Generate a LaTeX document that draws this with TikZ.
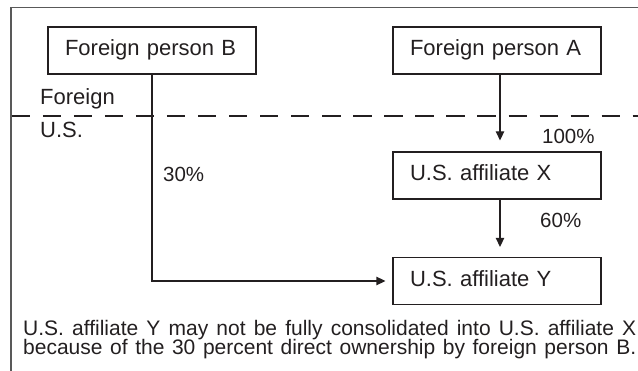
\documentclass[tikz,border=0pt]{standalone}
\usepackage{fontspec}
\setmainfont{Liberation Sans}
\usetikzlibrary{arrows.meta}
\definecolor{ink}{HTML}{231F20}
\tikzset{
  box/.style={draw=ink, line width=1.3pt, rectangle, minimum width=208pt, minimum height=47pt,
    text width=174pt, inner xsep=17pt, inner ysep=0pt, align=left,
    text height=16pt, text depth=5pt, font=\fontsize{22}{26}\selectfont, text=ink},
  lbl/.style={anchor=base west, inner sep=0pt, font=\fontsize{22}{26}\selectfont, text=ink},
  pct/.style={anchor=base west, inner sep=0pt, font=\fontsize{20.5}{24}\selectfont, text=ink},
  note/.style={anchor=base west, inner sep=0pt, font=\fontsize{21}{22}\selectfont, text=ink},
  conn/.style={draw=ink, line width=1.3pt, -{Triangle[length=9pt,width=8.5pt]}},
  frame/.style={draw=black!65, line width=1.5pt},
  border/.style={draw=ink, line width=2.8pt, dash pattern=on 18.3pt off 12.75pt},
}
\begin{document}
\begin{tikzpicture}[x=1pt,y=-1pt]
\useasboundingbox (0,0) rectangle (638,371);
% frame
\coordinate (fbl) at (11,371);
\coordinate (ftl) at (11,7.5);
\coordinate (ftr) at (638,7.5);
\draw[frame] (fbl) -- (ftl) -- (ftr);
% boxes
\node[box] (B) at (152,50.5) {Foreign person B};
\node[box] (A) at (497,50.5) {Foreign person A};
\node[box] (X) at (497,175.5) {U.S. affiliate X};
\node[box] (Y) at (497,281) {U.S. affiliate Y};
% border line
\coordinate (dl) at (11.7,116);
\coordinate (dr) at (638,116);
\draw[border] (dl) -- (dr);
% labels
\node[lbl] (foreign) at (40,105) {Foreign};
\node[lbl] (us) at (40,137.5) {U.S.};
\node[pct] (p30) at (163,181.7) {30\%};
\node[pct] (p100) at (542,144) {100\%};
\node[pct] (p60) at (540,227.3) {60\%};
% connectors
\draw[conn, shorten >=11pt] ([xshift=3pt]A.south) -- ([xshift=3pt]X.north);
\draw[conn, shorten >=10pt] ([xshift=3pt]X.south) -- ([xshift=3pt]Y.north);
\draw[conn, shorten >=7pt] (B.south) |- (Y.west);
% note
\node[note] (n1) at (23,336) {\makebox[613pt][s]{U.S. affiliate Y may not be fully consolidated into U.S. affiliate X}};
\node[note] (n2) at (23,355) {\makebox[613pt][s]{because of the 30 percent direct ownership by foreign person B.}};
\end{tikzpicture}
\end{document}
